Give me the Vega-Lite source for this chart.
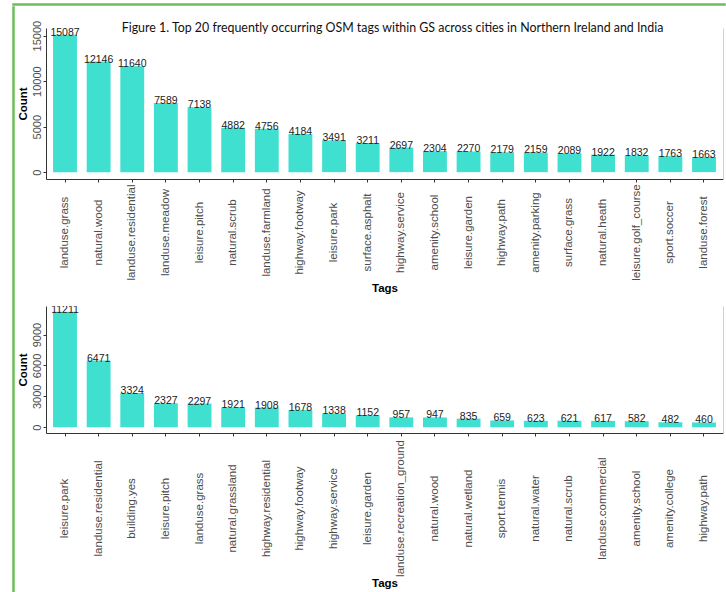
{
  "$schema": "https://vega.github.io/schema/vega-lite/v6.json",
  "padding": {"top": 3, "left": 12, "right": 0, "bottom": 0},
  "background": "white",
  "config": {
    "view": {"stroke": null},
    "font": "Liberation Sans",
    "concat": {"spacing": 0}
  },
  "datasets": {
    "ni": [
      {"tag": "landuse.grass", "count": 15087},
      {"tag": "natural.wood", "count": 12146},
      {"tag": "landuse.residential", "count": 11640},
      {"tag": "landuse.meadow", "count": 7589},
      {"tag": "leisure.pitch", "count": 7138},
      {"tag": "natural.scrub", "count": 4882},
      {"tag": "landuse.farmland", "count": 4756},
      {"tag": "highway.footway", "count": 4184},
      {"tag": "leisure.park", "count": 3491},
      {"tag": "surface.asphalt", "count": 3211},
      {"tag": "highway.service", "count": 2697},
      {"tag": "amenity.school", "count": 2304},
      {"tag": "leisure.garden", "count": 2270},
      {"tag": "highway.path", "count": 2179},
      {"tag": "amenity.parking", "count": 2159},
      {"tag": "surface.grass", "count": 2089},
      {"tag": "natural.heath", "count": 1922},
      {"tag": "leisure.golf_course", "count": 1832},
      {"tag": "sport.soccer", "count": 1763},
      {"tag": "landuse.forest", "count": 1663}
    ],
    "india": [
      {"tag": "leisure.park", "count": 11211},
      {"tag": "landuse.residential", "count": 6471},
      {"tag": "building.yes", "count": 3324},
      {"tag": "leisure.pitch", "count": 2327},
      {"tag": "landuse.grass", "count": 2297},
      {"tag": "natural.grassland", "count": 1921},
      {"tag": "highway.residential", "count": 1908},
      {"tag": "highway.footway", "count": 1678},
      {"tag": "highway.service", "count": 1338},
      {"tag": "leisure.garden", "count": 1152},
      {"tag": "landuse.recreation_ground", "count": 957},
      {"tag": "natural.wood", "count": 947},
      {"tag": "natural.wetland", "count": 835},
      {"tag": "sport.tennis", "count": 659},
      {"tag": "natural.water", "count": 623},
      {"tag": "natural.scrub", "count": 621},
      {"tag": "landuse.commercial", "count": 617},
      {"tag": "amenity.school", "count": 582},
      {"tag": "amenity.college", "count": 482},
      {"tag": "highway.path", "count": 460}
    ]
  },
  "vconcat": [
    {
      "width": 712,
      "height": 1,
      "data": {"values": []},
      "mark": "point",
      "encoding": {},
      "view": {"stroke": "#6abf5a", "strokeWidth": 1.5}
    },
    {
      "spacing": 1,
      "hconcat": [
        {
          "width": 1,
          "height": 585,
          "data": {"values": []},
          "mark": "point",
          "encoding": {},
          "view": {"stroke": "#6abf5a", "strokeWidth": 1.5}
        },
        {
          "spacing": 12,
          "vconcat": [
            {
              "width": 677,
              "height": 1,
              "data": {"values": []},
              "mark": "point",
              "encoding": {}
            },
            {
              "width": 677,
              "height": 151,
              "data": {"name": "ni"},
              "title": {
                "text": "Figure 1. Top 20 frequently occurring OSM tags within GS across cities in Northern Ireland and India",
                "font": "Lato",
                "fontSize": 12.4,
                "fontWeight": "normal",
                "color": "#111111",
                "anchor": "middle",
                "frame": "group",
                "offset": -14,
                "dx": 8
              },
              "layer": [
                {
                  "mark": {"type": "bar", "color": "#40E0D0"},
                  "encoding": {
                    "x": {
                      "field": "tag", "type": "nominal", "sort": null,
                      "scale": {"paddingInner": 0.29, "paddingOuter": 0.21},
                      "axis": {
                        "title": "Tags", "titleFontWeight": "bold", "titleFontSize": 11.5, "titleColor": "#000000", "titlePadding": 2,
                        "labelAngle": -90, "labelAlign": "center", "labelBaseline": "middle", "labelPadding": 50,
                        "labelFont": "Liberation Sans", "labelFontSize": 11.5, "labelColor": "#4d4d4d", "labelOverlap": false, "labelLimit": 0,
                        "tickSize": 3, "tickColor": "#333333", "domainColor": "#333333"
                      }
                    },
                    "y": {
                      "field": "count", "type": "quantitative",
                      "scale": {"domain": [-754, 15841], "nice": false, "zero": false},
                      "axis": {
                        "values": [0, 5000, 10000, 15000], "format": "d", "grid": false,
                        "title": "Count", "titleFontWeight": "bold", "titleFontSize": 11.5, "titleColor": "#000000", "titlePadding": 3,
                        "labelAngle": -90, "labelAlign": "center", "labelBaseline": "bottom", "labelPadding": 1,
                        "labelFont": "Liberation Sans", "labelFontSize": 11, "labelColor": "#4d4d4d",
                        "tickSize": 3, "tickColor": "#333333", "domainColor": "#333333"
                      }
                    }
                  }
                },
                {
                  "mark": {"type": "text", "baseline": "bottom", "dy": 3, "fontSize": 10.5, "font": "Liberation Sans", "color": "#222222", "clip": true},
                  "encoding": {
                    "x": {"field": "tag", "type": "nominal", "sort": null},
                    "y": {
                      "field": "count", "type": "quantitative",
                      "scale": {"domain": [-754, 15841], "nice": false, "zero": false},
                      "axis": {"orient": "right", "labels": false, "ticks": false, "title": null, "grid": false, "domainColor": "#d0d0d0"}
                    },
                    "text": {"field": "count", "type": "quantitative", "format": "d"}
                  }
                }
              ],
              "resolve": {"scale": {"y": "independent"}}
            },
            {
              "width": 677,
              "height": 127,
              "data": {"name": "india"},
              "layer": [
                {
                  "mark": {"type": "bar", "color": "#40E0D0"},
                  "encoding": {
                    "x": {
                      "field": "tag", "type": "nominal", "sort": null,
                      "scale": {"paddingInner": 0.29, "paddingOuter": 0.21},
                      "axis": {
                        "title": "Tags", "titleFontWeight": "bold", "titleFontSize": 11.5, "titleColor": "#000000", "titlePadding": 1,
                        "labelAngle": -90, "labelAlign": "center", "labelBaseline": "middle", "labelPadding": 72,
                        "labelFont": "Liberation Sans", "labelFontSize": 11.5, "labelColor": "#4d4d4d", "labelOverlap": false, "labelLimit": 0,
                        "tickSize": 3, "tickColor": "#333333", "domainColor": "#333333"
                      }
                    },
                    "y": {
                      "field": "count", "type": "quantitative",
                      "scale": {"domain": [-560, 11771], "nice": false, "zero": false},
                      "axis": {
                        "values": [0, 3000, 6000, 9000], "format": "d", "grid": false,
                        "title": "Count", "titleFontWeight": "bold", "titleFontSize": 11.5, "titleColor": "#000000", "titlePadding": 3,
                        "labelAngle": -90, "labelAlign": "center", "labelBaseline": "bottom", "labelPadding": 1,
                        "labelFont": "Liberation Sans", "labelFontSize": 11, "labelColor": "#4d4d4d",
                        "tickSize": 3, "tickColor": "#333333", "domainColor": "#333333"
                      }
                    }
                  }
                },
                {
                  "mark": {"type": "text", "baseline": "bottom", "dy": 3, "fontSize": 10.5, "font": "Liberation Sans", "color": "#222222", "clip": true},
                  "encoding": {
                    "x": {"field": "tag", "type": "nominal", "sort": null},
                    "y": {
                      "field": "count", "type": "quantitative",
                      "scale": {"domain": [-560, 11771], "nice": false, "zero": false},
                      "axis": {"orient": "right", "labels": false, "ticks": false, "title": null, "grid": false, "domainColor": "#d0d0d0"}
                    },
                    "text": {"field": "count", "type": "quantitative", "format": "d"}
                  }
                }
              ],
              "resolve": {"scale": {"y": "independent"}}
            }
          ]
        }
      ]
    }
  ]
}
